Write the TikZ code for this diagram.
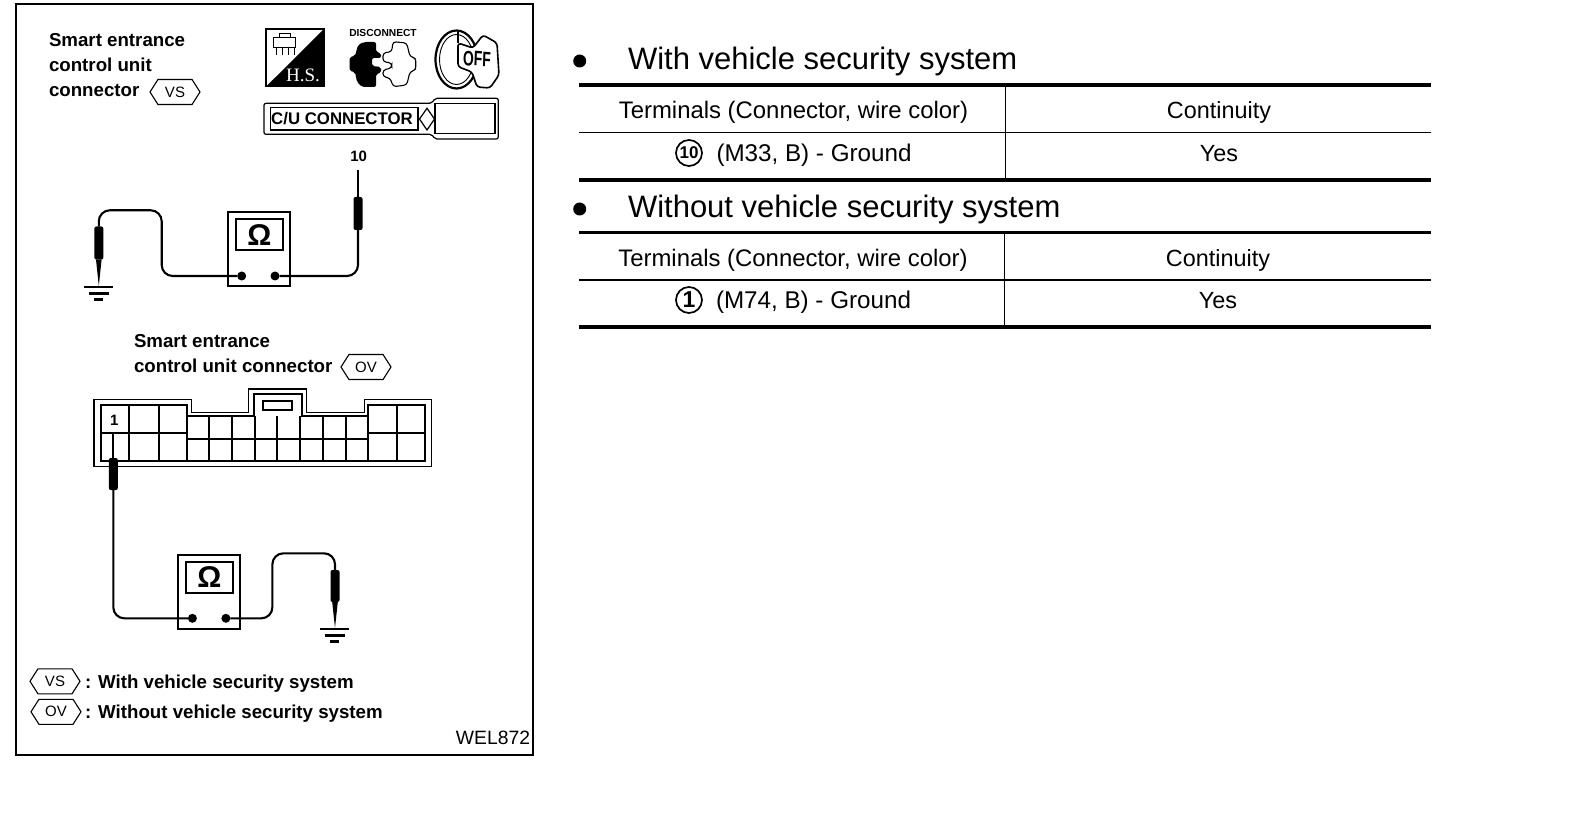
\documentclass[tikz,border=0pt]{standalone}
\usepackage{fontspec}
\setmainfont{Liberation Sans}
\newfontfamily\hsfont{Liberation Serif}
\usetikzlibrary{shapes.symbols}
\newcommand{\fs}[1]{\fontsize{#1}{#1}\selectfont}
\tikzset{
  ground/.pic={
    \draw[line width=2pt] (-14.5,0) -- (14.5,0);
    \draw[line width=2.6pt] (-10,6.5) -- (10,6.5);
    \draw[line width=3pt] (-4.5,12.5) -- (4.5,12.5);
  }
}
\begin{document}
\begin{tikzpicture}[
      x=1pt, y=-1pt,
      every node/.style={inner sep=0pt, outer sep=0pt, align=left},
      label/.style={font=\bfseries\fs{18.7}, anchor=base west},
      title/.style={font=\fs{31}, anchor=base west},
      cell/.style={font=\fs{23.4}, anchor=base},
      headtext/.style={font=\fs{23.9}, anchor=base},
      rowtext/.style={font=\fs{24.2}, anchor=base west},
      tag/.style={draw, line width=1.1pt, signal, signal to=east and west, signal pointer angle=115,
        minimum width=50pt, minimum height=25pt, font=\fs{15}},
      meter/.style={draw, line width=1.7pt, minimum width=62pt, minimum height=74pt},
      screen/.style={draw, line width=1.9pt, minimum width=46.5pt, minimum height=31pt,
        font=\bfseries\fs{30}},
      terminal/.style={fill, circle, minimum size=9pt},
      probe/.style={fill, rounded corners=2pt, minimum width=9pt, minimum height=33pt},
      wire/.style={line width=2.1pt, rounded corners=11pt},
      tip/.style={line width=1.7pt},
      rule/.style={line width=#1, line cap=butt},
      num/.style={draw, circle, line width=1.7pt, minimum size=26pt},
    ]
    \useasboundingbox (0,0) rectangle (1584,818);
    \draw[line width=1.7pt] (16,4) rectangle (533,755);

    \node[label] (ctrlA) at (49,46.7) {Smart entrance};
    \node[label] (ctrlB) at (49,71.7) {control unit};
    \node[label] (ctrlC) at (49,96.7) {connector};
    \node[tag] (tagVS) at (175,92) {VS};

    % service icons
    \draw[line width=1.3pt] (266,29) rectangle (324,86.7);
    \fill (324,29) -- (324,86.7) -- (266,86.7) -- cycle;
    \node[font=\hsfont\fs{19}, text=white] (iconHS) at (303,75) {H.S.};
    \draw[line width=.8pt] (273,37) rectangle (295,47) (276,47) -- (276,55) (282,47) -- (282,55)
      (288,47) -- (288,55) (294,47) -- (294,55) (279,37) -- (279,33) -- (290,33) -- (290,37);
    \node[font=\bfseries\fs{10.2}] (iconDisc) at (383,33) {DISCONNECT};
    \fill[rounded corners=2pt] (349.5,57) -- (355,56) -- (358,45) -- (364,42) -- (376,42) -- (376,52)
      -- (381,53) -- (381,58) -- (372,58) -- (372,66) -- (381,67) -- (381,73) -- (376,74)
      -- (376,87) -- (362,87) -- (357,82) -- (355,72) -- (349.5,71) -- cycle;
    \draw[line width=1.1pt, rounded corners=3pt] (391.7,51.7) -- (393,41.7) -- (406.7,43) -- (410,56.7)
      -- (415.7,58) -- (415.7,70) -- (410,71.7) -- (406.7,85) -- (393.3,86.7) -- (390,78)
      -- (383,76.7) -- (383,70) -- (391.7,68) -- (391.7,63) -- (383,61.7) -- (383,53) -- cycle;
    \draw[line width=2.2pt] (456.5,59.5) ellipse (21pt and 29pt);
    \draw[line width=.9pt] (456.5,59.5) ellipse (17pt and 25pt);
    \draw[fill=white, line width=1.6pt, rounded corners=3pt] (458,43) -- (473,48) -- (483,35)
      -- (497,43) -- (499,75) -- (490,88) -- (477,87) -- (472,72) -- (458,66.7) -- cycle;
    \draw[line width=1.2pt] (458,30) -- (458,43);
    \node[font=\bfseries\fs{21}, xscale=.66, rotate=-3] (iconOff) at (477,59) {OFF};

    % connector label
    \draw[line width=1.2pt, rounded corners=2pt] (264,103.3) -- (431.7,103.3) -- (435,98.3) -- (498.3,98.3)
      -- (498.3,139) -- (435,139) -- (431.7,134.3) -- (264,134.3) -- cycle;
    \draw[line width=1.1pt] (435,103.3) rectangle (495,133.3);
    \draw[line width=1.4pt] (270.7,107.7) rectangle (418,130);
    \draw[line width=1.2pt] (427,108.3) -- (434.5,119) -- (427,130) -- (419.5,119) -- cycle;
    \node[font=\bfseries\fs{16.8}] (cuConn) at (342,118.3) {C/U CONNECTOR};

    % first measurement
    \node[meter] (meterA) at (259.2,249.3) {};
    \node[screen] (screenA) at (259.4,234.7) {\raisebox{-1pt}{Ω}};
    \node[terminal] (termAL) at (241.7,276) {};
    \node[terminal] (termAR) at (275,276) {};
    \node[font=\bfseries\fs{15}, anchor=base] (pinTen) at (358.6,161.7) {10};
    \node[probe] (probeAR) at (358,213.5) {};
    \node[probe] (probeAL) at (98.8,243) {};
    \coordinate (tipAR) at (358,170);
    \coordinate (tipAL) at (98.8,286);
    \draw[tip] (probeAR) -- (tipAR);
    \fill ([xshift=-2.8pt]probeAL.south) -- (tipAL) -- ([xshift=2.8pt]probeAL.south) -- cycle;
    \draw[wire] (termAR) -| (probeAR);
    \draw[wire] (termAL) -| (161.7,210.3) -| (probeAL);
    \pic at (98.5,287) {ground};

    % second connector
    \node[label] (unitA) at (134,347.3) {Smart entrance};
    \node[label] (unitB) at (134,372.3) {control unit connector};
    \node[tag] (tagOV) at (366,367) {OV};
    \draw[line width=1.5pt] (94,399.3) -- (191.7,399.3) -- (191.7,412.3) -- (248.3,412.3) -- (248.3,389)
      -- (306.7,389) -- (306.7,412.3) -- (364.3,412.3) -- (364.3,399.3) -- (431.7,399.3)
      -- (431.7,466.7) -- (94,466.7) -- cycle;
    \draw[line width=1.7pt] (100.7,405) -- (187.3,405) -- (187.3,416) -- (254,416) -- (254,394.3)
      -- (301.7,394.3) -- (301.7,416) -- (368.3,416) -- (368.3,405) -- (425,405) -- (425,461)
      -- (100.7,461) -- cycle;
    \draw[line width=1.9pt] (262.7,400.7) rectangle (291.7,410);
    \foreach \xa in {129.3,159,187.3,368.3,396.7}
      \draw[line width=1.7pt] (\xa,405) -- (\xa,461);
    \foreach \xa in {209.3,232.3,254.7,277.3,300,323,345.7}
      \draw[line width=1.7pt] (\xa,416) -- (\xa,461);
    \draw[line width=1.7pt] (100.7,432.7) -- (187.3,432.7) (187.3,439) -- (368.3,439) (368.3,432.7) -- (425,432.7);
    \node[font=\bfseries\fs{15}, anchor=base] (pinOne) at (114.3,425) {1};

    % second measurement
    \node[meter] (meterB) at (209.3,592) {};
    \node[screen] (screenB) at (209.4,577.5) {\raisebox{-1pt}{Ω}};
    \node[terminal] (termBL) at (192.4,618.3) {};
    \node[terminal] (termBR) at (225.9,618.3) {};
    \node[probe, minimum height=32pt] (probeBL) at (113.3,474) {};
    \node[probe, minimum height=32pt] (probeBR) at (335,586) {};
    \coordinate (tipBL) at (113.3,431.7);
    \coordinate (tipBR) at (335,628);
    \draw[tip] (probeBL) -- (tipBL);
    \fill ([xshift=-2.8pt]probeBR.south) -- (tipBR) -- ([xshift=2.8pt]probeBR.south) -- cycle;
    \draw[wire] (termBL) -| (probeBL);
    \draw[wire] (termBR) -| (272.4,553.3) -| (probeBR);
    \pic at (334.5,629) {ground};

    % legend
    \node[tag] (legVS) at (55,681.3) {VS};
    \node[tag] (legOV) at (56,711.8) {OV};
    \node[label] (legTextA) at (85,688.3) {: With vehicle security system};
    \node[label] (legTextB) at (85,718.3) {: Without vehicle security system};
    \node[font=\fs{19.3}, anchor=base east] (code) at (530,744.3) {WEL872};

    % tables
    \foreach \yy in {61,209}
      \fill (579.7,\yy) circle (6.5pt);
    \node[title] (headA) at (628,70) {With vehicle security system};
    \node[title] (headB) at (628,218) {Without vehicle security system};
    \foreach \yy/\ww in {85/3.6pt,132.7/1.6pt,180/4pt,232.3/3pt,280/1.6pt,326.7/4pt}
      \draw[rule=\ww] (579,\yy) -- (1431,\yy);
    \draw[line width=1.3pt] (1005.7,85) -- (1005.7,180);
    \draw[line width=1.5pt] (1004.5,232.3) -- (1004.5,326.7);

    \node[headtext] (termHeadA) at (793.5,118.3) {Terminals (Connector, wire color)};
    \node[cell] (contHeadA) at (1219,118.3) {Continuity};
    \node[num] (numTen) at (689,153) {\fs{17}\bfseries 10};
    \node[rowtext] (rowA) at (716.5,161.7) {(M33, B) - Ground};
    \node[cell] (yesA) at (1219,161.7) {Yes};
    \node[headtext] (termHeadB) at (793,266) {Terminals (Connector, wire color)};
    \node[cell] (contHeadB) at (1218,266) {Continuity};
    \node[num] (numOne) at (689,300) {\fs{23}\bfseries 1};
    \node[rowtext] (rowB) at (716,308.3) {(M74, B) - Ground};
    \node[cell] (yesB) at (1218,308.3) {Yes};
\end{tikzpicture}
\end{document}
